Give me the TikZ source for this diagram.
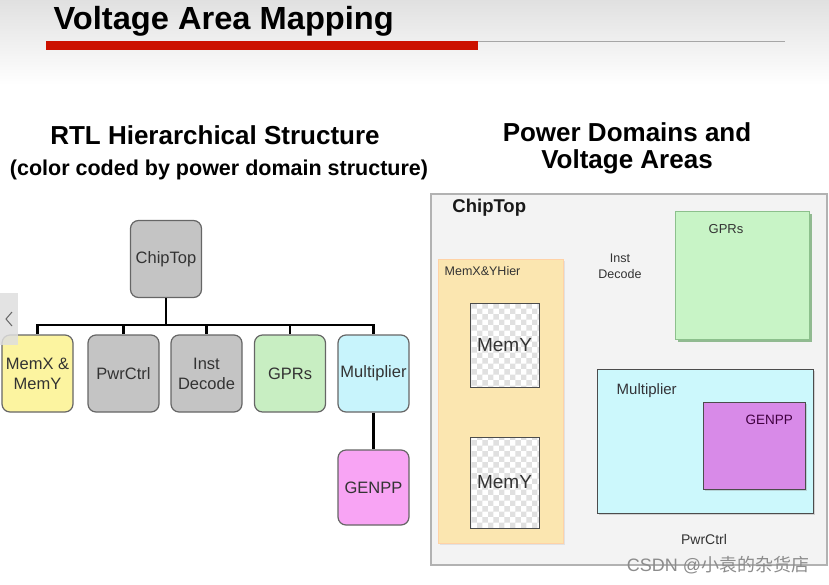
\documentclass[tikz,border=0pt]{standalone}
\usepackage{fontspec}
\setmainfont{Liberation Sans}
\newfontfamily\cjk{Noto Sans CJK SC}
\usetikzlibrary{positioning,patterns,shadows}

\definecolor{titlered}{HTML}{CC1200}
\definecolor{boxgray}{HTML}{C4C4C4}
\definecolor{memyellow}{HTML}{FCF4A0}
\definecolor{gprgreen}{HTML}{C8EEC2}
\definecolor{multcyan}{HTML}{C8F4FC}
\definecolor{genpink}{HTML}{F8A4F4}
\definecolor{chipbg}{HTML}{F3F3F3}
\definecolor{memorange}{HTML}{FBE6B0}
\definecolor{vagreen}{HTML}{C8F4C6}
\definecolor{vacyan}{HTML}{CCF8FC}
\definecolor{vapurple}{HTML}{D88AE8}

\begin{document}
\begin{tikzpicture}[x=1pt, y=-1pt,
      every node/.style={text=black!80},
      heading/.style={font=\bfseries\fontsize{26}{27}\selectfont, text=black, align=center},
      tree/.style={draw=black!60, line width=1.2pt, rounded corners=8pt, align=center,
        minimum width=71pt, minimum height=77pt, inner sep=1pt, fill=boxgray,
        font=\fontsize{16.5}{20}\selectfont},
      bus/.style={line width=2.8pt, black},
      area/.style={draw=black!70, line width=1pt, inner sep=0pt},
      memybox/.style={area, preaction={fill=white}, pattern=checkerboard,
        pattern color=black!12, font=\fontsize{19}{20}\selectfont},
      lbl/.style={inner sep=0pt, font=\fontsize{13}{16}\selectfont},
    ]
    \useasboundingbox (0,0) rectangle (829,584);
    \fill[top color=black!12, bottom color=white] (0,0) rectangle (829,85);

    % Title
    \node[font=\bfseries\fontsize{32}{34}\selectfont, text=black, anchor=west] (title) at (50,21)
      {\scalebox{1.02}[1]{Voltage Area Mapping}};
    \draw[black!35, line width=0.8pt] (46,41) -- (785,41);
    \fill[titlered] (46,41) rectangle (478,50);

    % Headings
    \node[heading] (rtlhead) at (215,135) {RTL Hierarchical Structure};
    \node[font=\bfseries\fontsize{21.5}{23}\selectfont, text=black] (rtlsub) at (219,170)
      {(color coded by power domain structure)};
    \node[heading] (vahead) at (627,148) {Power Domains and\\Voltage Areas};

    % RTL tree
    \node[tree] (chiptop) at (166,259) {ChipTop};
    \node[tree, fill=memyellow] (memxy)   at (37.5,373.5)  {MemX \&\\MemY};
    \node[tree] (pwrctrl) at (123.5,373.5) {PwrCtrl};
    \node[tree] (instdec) at (206.5,373.5) {Inst\\Decode};
    \node[tree, fill=gprgreen] (gprs) at (290,373.5) {GPRs};
    \node[tree, fill=multcyan] (mult) at (373.5,373.5) {Multiplier};
    \node[tree, fill=genpink, minimum height=75pt] (genpp) at (373.5,487.5) {GENPP};

    \coordinate (bus) at (166,325);
    \draw[bus] (chiptop) -- (bus);
    \foreach \n in {memxy, pwrctrl, instdec, gprs, mult}
      \draw[bus] (bus) -| (\n.north);
    \draw[bus] (mult) -- (genpp);

    % side tab
    \node[fill=black!13, opacity=0.85, minimum width=18pt, minimum height=52pt,
      inner sep=0pt] (tab) at (9,319) {};
    \draw[black!60, line width=1pt] ([xshift=3pt,yshift=-7pt]tab.center) -- ([xshift=-3pt]tab.center)
      -- ([xshift=3pt,yshift=7pt]tab.center);

    % Voltage areas
    \node[area, draw=black!30, line width=1.5pt, fill=chipbg,
      minimum width=396pt, minimum height=371pt] (chipva) at (629,379.5) {};
    \node[lbl, font=\bfseries\fontsize{18.5}{20}\selectfont, text=black!90,
      below right=6pt and 22pt of chipva.north west] (chiplbl) {ChipTop};

    \node[area, draw=orange!35, fill=memorange, minimum width=125pt, minimum height=284pt,
      drop shadow={opacity=0.15, shadow xshift=2pt, shadow yshift=-2pt}] (memva) at (500.5,401) {};
    \node[lbl, font=\fontsize{12.5}{14}\selectfont,
      below right=8pt and 7pt of memva.north west] (memlbl) {MemX\&YHier};
    \node[memybox, minimum width=69pt, minimum height=84pt] (memy1) at (504.5,345) {MemY};
    \node[memybox, minimum width=69pt, minimum height=91pt] (memy2) at (504.5,482.5) {MemY};

    \node[lbl, align=center, font=\fontsize{12.5}{16}\selectfont] (instlbl) at (620,266) {Inst\\Decode};

    \node[area, draw=green!45!black!45, fill=vagreen, minimum width=134pt, minimum height=128pt,
      drop shadow={opacity=0.4, fill=green!40!black, shadow xshift=2.5pt, shadow yshift=-2.5pt}]
      (gprva) at (742,275) {};
    \node[lbl, below right=14pt and 34pt of gprva.north west] (gprlbl) {GPRs};

    \node[area, fill=vacyan, minimum width=216pt, minimum height=144pt,
      drop shadow={opacity=0.3, shadow xshift=2pt, shadow yshift=-2pt}] (multva) at (705,441) {};
    \node[lbl, font=\fontsize{15}{16}\selectfont, text=black!75!cyan!40!black,
      below right=15pt and 20pt of multva.north west] (multlbl) {Multiplier};

    \node[area, fill=vapurple, minimum width=102pt, minimum height=87pt,
      drop shadow={opacity=0.3, shadow xshift=2pt, shadow yshift=-2pt}] (genva) at (754,445.5) {};
    \node[lbl, font=\fontsize{13.5}{16}\selectfont, text=violet!50!black,
      below right=13pt and 43pt of genva.north west] (genlbl) {GENPP};

    \node[lbl, font=\fontsize{14}{16}\selectfont] (pwrlbl) at (704,539) {PwrCtrl};

    % watermark
    \node[inner sep=0pt, font=\fontsize{18}{20}\selectfont, text=black!45] (mark) at (718,565)
      {CSDN @{\cjk 小袁的杂货店}};
  \end{tikzpicture}
\end{document}
